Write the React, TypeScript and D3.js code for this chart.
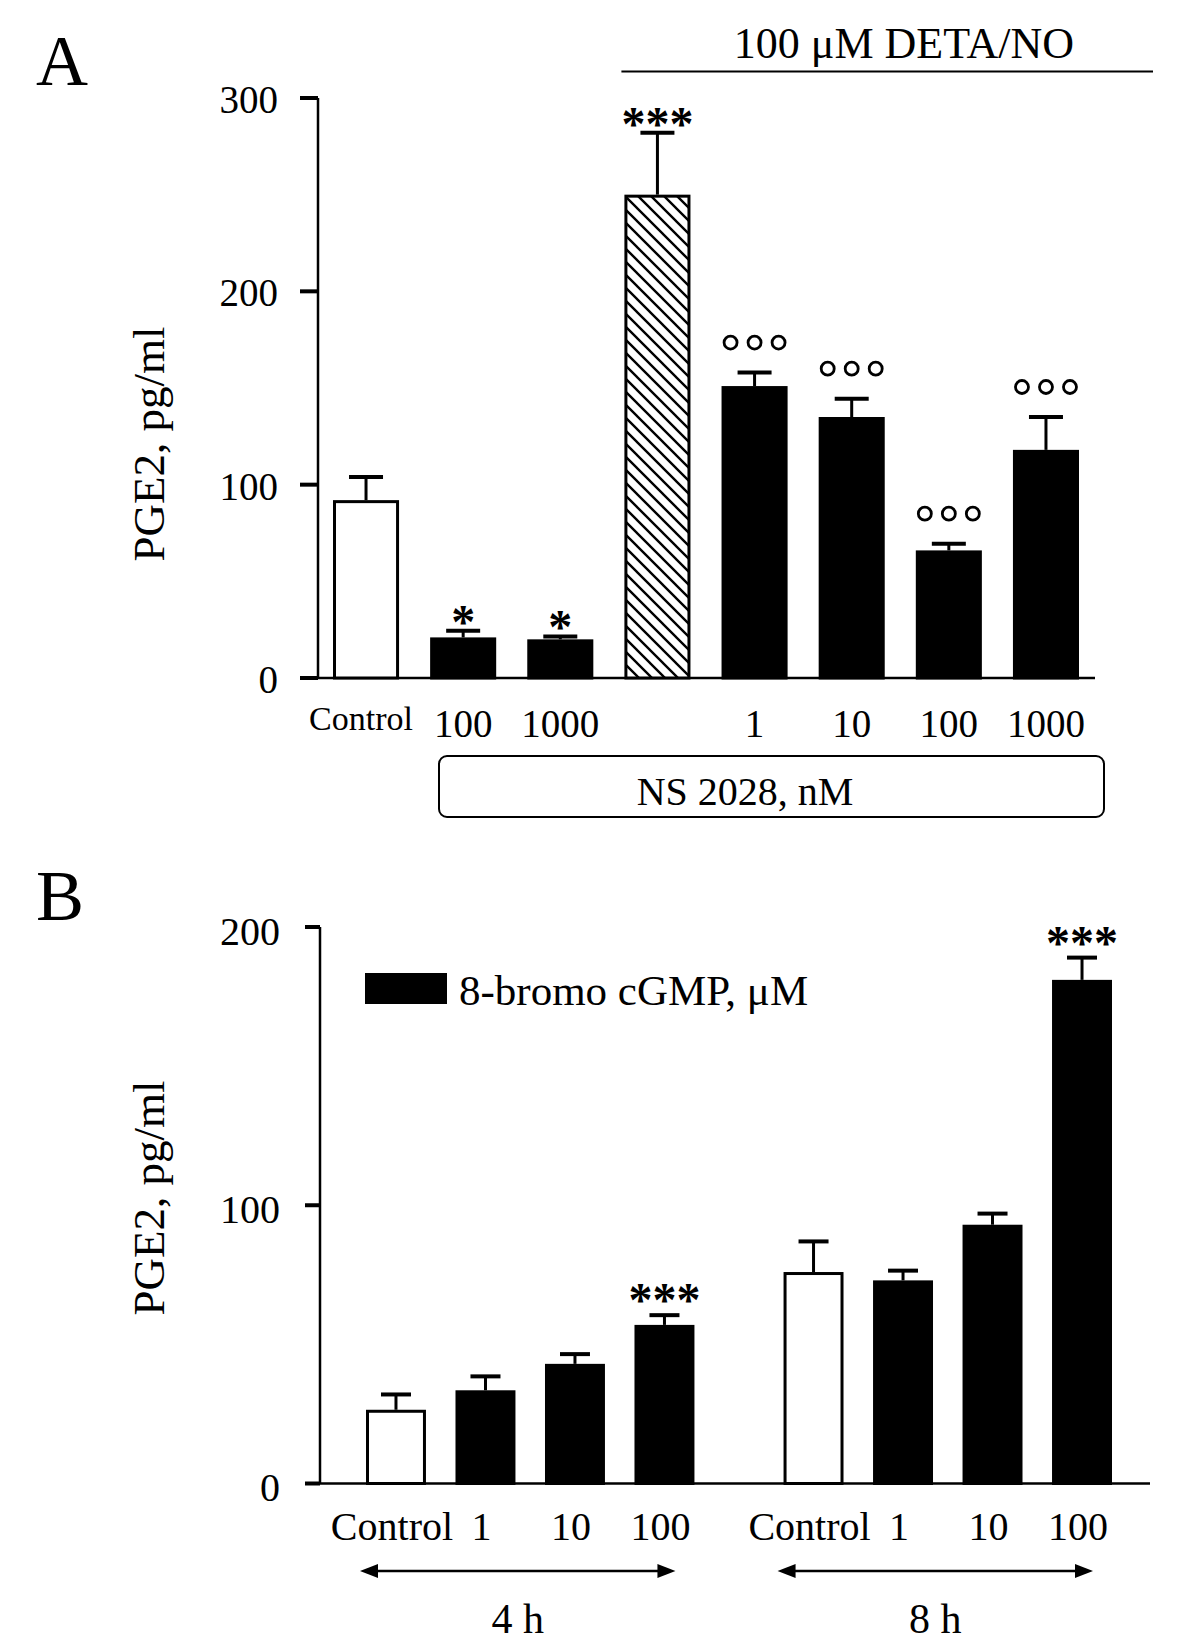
import React from "react";
import * as d3 from "d3";

// Panel A: PGE2 release, NS 2028 with/without DETA/NO
const aKeys = ["ctrl", "ns100", "ns1000", "deta", "d1", "d10", "d100", "d1000"];
const aLabels = ["Control", "100", "1000", "", "1", "10", "100", "1000"];
const aKinds = ["control", "drug", "drug", "deta", "drug", "drug", "drug", "drug"];
const aMeans = [92, 21, 20, 250, 151, 135, 66, 118];
const aErrors = [12, 3.5, 1.5, 32, 7, 9.5, 3.5, 17];
const aMarks = ["", "*", "*", "***", "ooo", "ooo", "ooo", "ooo"];
const aTicks = [0, 100, 200, 300];

// Panel B: 8-bromo cGMP at 4 h and 8 h
const bGroups = ["4 h", "8 h"];
const bDoses = ["Control", "1", "10", "100"];
const bMeans4h = [26.5, 33.5, 43, 57];
const bErrors4h = [5.5, 5, 3.5, 3.5];
const bMeans8h = [76, 73, 93, 181];
const bErrors8h = [11, 3.5, 4, 8];
const bMarks4h = ["", "", "", "***"];
const bMarks8h = ["", "", "", "***"];
const bTicks = [0, 100, 200];

const FONT = "'Liberation Serif', 'Times New Roman', serif";

function Marks({ mark, cx, yTop, drop }: { mark: string; cx: number; yTop: number; drop: number }) {
  if (!mark) return null;
  if (mark === "ooo") {
    return (
      <g>
        {[-1, 0, 1].map(i => (
          <circle key={i} cx={cx + i * 24} cy={yTop - 30} r={6.5} fill="none" stroke="#000" strokeWidth={2.8} />
        ))}
      </g>
    );
  }
  return (
    <text x={cx} y={yTop + drop} textAnchor="middle" fontSize={48} fontWeight="bold" fontFamily={FONT}>
      {mark}
    </text>
  );
}

function Bar({ x, w, y0, yv, ye, kind, cap }: any) {
  const fill = kind === "control" ? "#fff" : kind === "deta" ? "url(#hatch)" : "#000";
  return (
    <g>
      <line x1={x + w / 2} x2={x + w / 2} y1={yv} y2={ye} stroke="#000" strokeWidth={3} />
      <line x1={x + w / 2 - cap / 2} x2={x + w / 2 + cap / 2} y1={ye} y2={ye} stroke="#000" strokeWidth={4} />
      <rect x={x + 1.5} y={yv + 1.5} width={w - 3} height={y0 - yv - 1.5} fill={fill} stroke="#000" strokeWidth={3} />
    </g>
  );
}

export default function App() {
  // Panel A scales
  const xA = d3.scaleBand<string>().domain(aKeys).range([333, 1079]).paddingInner(0.32).paddingOuter(0);
  const yA = d3.scaleLinear().domain([0, 300]).range([678, 98]);
  const axA = 318;

  // Panel B scales
  const xGroup = d3.scaleBand<string>().domain(bGroups).range([366, 1112]).paddingInner(0.2134).paddingOuter(0);
  const xDose = d3.scaleBand<string>().domain(bDoses).range([0, xGroup.bandwidth()]).paddingInner(0.33).paddingOuter(0);
  const yB = d3.scaleLinear().domain([0, 200]).range([1483.5, 927]);
  const axB = 320;

  const bSeries = [
    { group: bGroups[0], means: bMeans4h, errors: bErrors4h, marks: bMarks4h },
    { group: bGroups[1], means: bMeans8h, errors: bErrors8h, marks: bMarks8h },
  ];

  const bw = xA.bandwidth();
  const bwB = xDose.bandwidth();

  return (
    <svg
      width={1200}
      height={1648}
      style={{ position: "absolute", left: 0, top: 0, background: "#fff" }}
      fontFamily={FONT}
    >
      <defs>
        <pattern id="hatch" patternUnits="userSpaceOnUse" width={13} height={13}>
          <rect width={13} height={13} fill="#fff" />
          <path d="M-3,-3 L16,16 M-3,10 L3,16 M10,-3 L16,3" stroke="#000" strokeWidth={2.4} />
        </pattern>
      </defs>
      <rect width={1200} height={1648} fill="#fff" />

      {/* ---------- Panel A ---------- */}
      <text x={36} y={85} fontSize={72}>A</text>
      <text x={904} y={58} textAnchor="middle" fontSize={44}>100 μM DETA/NO</text>
      <line x1={(xA("deta") ?? 0) - 3} x2={1153} y1={71.5} y2={71.5} stroke="#000" strokeWidth={2} />

      <text transform={`translate(164, 444) rotate(-90)`} textAnchor="middle" fontSize={45}>PGE2, pg/ml</text>

      <line x1={axA} x2={axA} y1={yA(300)} y2={yA(0)} stroke="#000" strokeWidth={2.5} />
      <line x1={axA} x2={1095} y1={yA(0)} y2={yA(0)} stroke="#000" strokeWidth={2.5} />
      {aTicks.map(t => (
        <g key={t}>
          <line x1={axA - 18} x2={axA} y1={yA(t)} y2={yA(t)} stroke="#000" strokeWidth={4} />
          <text x={278} y={yA(t) + 15} textAnchor="end" fontSize={39}>{t}</text>
        </g>
      ))}

      {aKeys.map((k, i) => {
        const x = xA(k) ?? 0;
        const ye = yA(aMeans[i] + aErrors[i]);
        return (
          <g key={k}>
            <Bar x={x} w={bw} y0={yA(0)} yv={yA(aMeans[i])} ye={ye} kind={aKinds[i]} cap={34} />
            <Marks mark={aMarks[i]} cx={x + bw / 2} yTop={ye} drop={7} />
            {aLabels[i] &&
              (i === 0 ? (
                <text x={x + bw / 2 - 5} y={730} textAnchor="middle" fontSize={34}>{aLabels[i]}</text>
              ) : (
                <text x={x + bw / 2} y={737} textAnchor="middle" fontSize={39}>{aLabels[i]}</text>
              ))}
          </g>
        );
      })}

      <rect x={439} y={756} width={665} height={61} rx={8} fill="none" stroke="#000" strokeWidth={2} />
      <text x={745} y={805} textAnchor="middle" fontSize={40}>NS 2028, nM</text>

      {/* ---------- Panel B ---------- */}
      <text x={36} y={920} fontSize={72}>B</text>
      <text transform={`translate(164, 1198) rotate(-90)`} textAnchor="middle" fontSize={45}>PGE2, pg/ml</text>

      <line x1={axB} x2={axB} y1={yB(200)} y2={yB(0)} stroke="#000" strokeWidth={2.5} />
      <line x1={axB} x2={1150} y1={yB(0)} y2={yB(0)} stroke="#000" strokeWidth={2.5} />
      {bTicks.map(t => (
        <g key={t}>
          <line x1={axB - 15} x2={axB} y1={yB(t)} y2={yB(t)} stroke="#000" strokeWidth={4} />
          <text x={280} y={yB(t) + 17.5} textAnchor="end" fontSize={40}>{t}</text>
        </g>
      ))}

      <rect x={365} y={973} width={82} height={31} fill="#000" />
      <text x={459} y={1005} fontSize={43}>8-bromo cGMP, μM</text>

      {bSeries.map(s => {
        const gx = xGroup(s.group) ?? 0;
        const a1 = gx - 6;
        const a2 = gx + xGroup.bandwidth() - 19;
        return (
          <g key={s.group}>
            {bDoses.map((d, i) => {
              const x = gx + (xDose(d) ?? 0);
              const ye = yB(s.means[i] + s.errors[i]);
              return (
                <g key={d}>
                  <Bar x={x} w={bwB} y0={yB(0)} yv={yB(s.means[i])} ye={ye} kind={i === 0 ? "control" : "drug"} cap={30} />
                  <Marks mark={s.marks[i]} cx={x + bwB / 2} yTop={ye} drop={1} />
                  <text x={x + bwB / 2 - 4} y={1540} textAnchor="middle" fontSize={40}>{d}</text>
                </g>
              );
            })}
            <line x1={a1 + 14} x2={a2 - 14} y1={1571} y2={1571} stroke="#000" strokeWidth={2.5} />
            <path d={`M${a1},1571 L${a1 + 18},1564 L${a1 + 18},1578 Z`} fill="#000" />
            <path d={`M${a2},1571 L${a2 - 18},1564 L${a2 - 18},1578 Z`} fill="#000" />
            <text x={(a1 + a2) / 2} y={1633} textAnchor="middle" fontSize={42}>{s.group}</text>
          </g>
        );
      })}
    </svg>
  );
}
